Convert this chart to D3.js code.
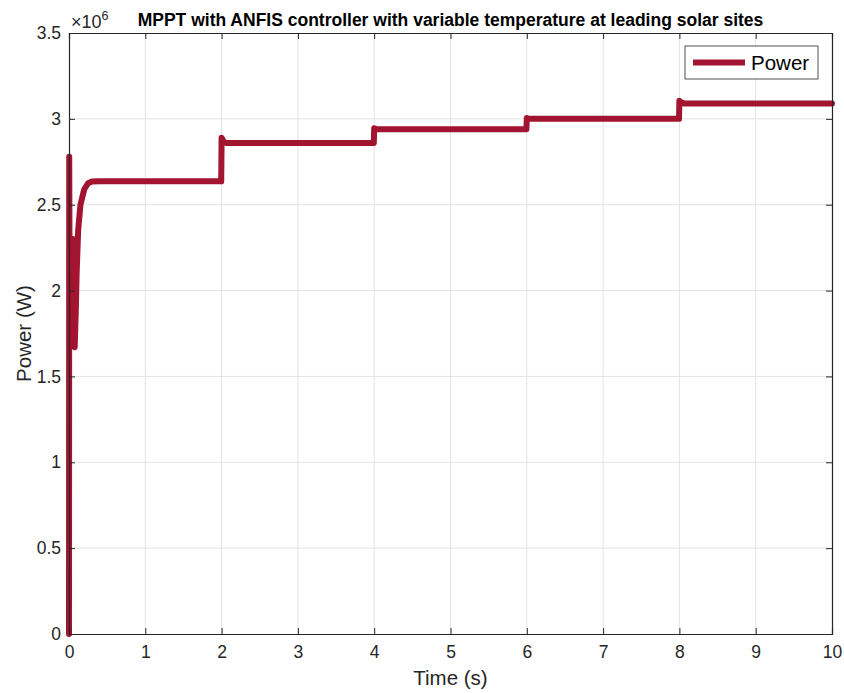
<!DOCTYPE html>
<html>
<head>
<meta charset="utf-8">
<script src="https://cdn.jsdelivr.net/npm/d3@7"></script>
<style>
  body { margin: 0; background: #fff; }
  text { font-family: "Liberation Sans", Arial, sans-serif; fill: #262626; }
</style>
</head>
<body>
<svg id="chart"></svg>
<script>
// time (s) and power (x10^6 W)
const timeVals = [0, 0.003, 0.008, 0.012, 0.018, 0.024, 0.03, 0.037, 0.044, 0.051, 0.058, 0.064, 0.07, 0.075,
  0.09, 0.1, 0.12, 0.15, 0.2, 0.25, 0.3, 0.4,
  1.995, 2.0, 2.03, 2.06, 3.995, 4.0, 4.03, 5.995, 6.0, 6.03, 7.995, 8.0, 8.03, 8.06, 10];
const powerVals = [0, 2.78, 2.0, 2.3, 1.75, 2.28, 1.72, 2.27, 1.7, 2.3, 1.69, 2.2, 1.68, 1.67,
  1.9, 2.1, 2.35, 2.5, 2.59, 2.625, 2.635, 2.637,
  2.636, 2.89, 2.865, 2.86, 2.86, 2.945, 2.94, 2.94, 3.005, 3.0, 3.0, 3.105, 3.095, 3.09, 3.09];
const xTicks = [0, 1, 2, 3, 4, 5, 6, 7, 8, 9, 10];
const yTicks = [0, 0.5, 1, 1.5, 2, 2.5, 3, 3.5];

const svgWidth = 844, svgHeight = 693;
const margin = { top: 33, right: 12, bottom: 59, left: 69 };
const width = svgWidth - margin.left - margin.right;
const height = svgHeight - margin.top - margin.bottom;

const svg = d3.select("#chart").attr("width", svgWidth).attr("height", svgHeight);
const g = svg.append("g").attr("transform", `translate(${margin.left},${margin.top})`);

const xScale = d3.scaleLinear().domain([0, 10]).range([0, width]);
const yScale = d3.scaleLinear().domain([0, 3.5]).range([height, 0]);

// grid
g.append("g").selectAll("line").data(xTicks.slice(1, -1)).join("line")
  .attr("x1", d => xScale(d)).attr("x2", d => xScale(d))
  .attr("y1", 0).attr("y2", height)
  .attr("stroke", "#e3e3e3").attr("stroke-width", 1);
g.append("g").selectAll("line").data(yTicks.slice(1, -1)).join("line")
  .attr("y1", d => yScale(d)).attr("y2", d => yScale(d))
  .attr("x1", 0).attr("x2", width)
  .attr("stroke", "#e3e3e3").attr("stroke-width", 1);

// data line
const line = d3.line().x((d, i) => xScale(timeVals[i])).y(d => yScale(d));
g.append("path")
  .datum(powerVals)
  .attr("d", line)
  .attr("fill", "none")
  .attr("stroke", "#A2142F")
  .attr("stroke-width", 6)
  .attr("stroke-linejoin", "round")
  .attr("stroke-linecap", "round");

// axes (MATLAB style: inward ticks on all sides, box)
const tickLen = 6;
const axisColor = "#262626";
g.append("g").attr("transform", `translate(0,${height})`)
  .call(d3.axisBottom(xScale).tickValues(xTicks).tickSize(-tickLen).tickPadding(12).tickFormat(d3.format("d")));
g.append("g")
  .call(d3.axisLeft(yScale).tickValues(yTicks).tickSize(-tickLen).tickPadding(8).tickFormat(d => d));
g.append("g").call(d3.axisTop(xScale).tickValues(xTicks).tickSize(-tickLen).tickFormat(""));
g.append("g").attr("transform", `translate(${width},0)`)
  .call(d3.axisRight(yScale).tickValues(yTicks).tickSize(-tickLen).tickFormat(""));
g.selectAll(".domain").attr("stroke", axisColor).attr("stroke-width", 1.2);
g.selectAll(".tick line").attr("stroke", axisColor);
g.selectAll(".tick text").attr("fill", axisColor).attr("font-size", 17.5)
  .style("font-size", "17.5px")
  .style("font-family", "'Liberation Sans', Arial, sans-serif");

// exponent label
const expo = svg.append("text").attr("x", 71).attr("y", 28).style("font-size", "18px");
expo.append("tspan").text("\u00d710");
expo.append("tspan").attr("dy", -8).style("font-size", "12.5px").text("6");

// title
svg.append("text")
  .attr("x", margin.left + width / 2).attr("y", 26)
  .attr("text-anchor", "middle")
  .style("font-size", "17.5px").style("font-weight", "bold")
  .style("fill", "#000")
  .text("MPPT with ANFIS controller with variable temperature at leading solar sites");

// axis labels
svg.append("text")
  .attr("x", margin.left + width / 2).attr("y", 685)
  .attr("text-anchor", "middle")
  .style("font-size", "20.5px")
  .text("Time (s)");
svg.append("text")
  .attr("transform", `translate(31,${margin.top + height / 2}) rotate(-90)`)
  .attr("text-anchor", "middle")
  .style("font-size", "20.5px")
  .text("Power (W)");

// legend
const leg = svg.append("g").attr("transform", "translate(685,46)");
leg.append("rect").attr("width", 133).attr("height", 33)
  .attr("fill", "#fff").attr("stroke", "#262626").attr("stroke-width", 0.8);
leg.append("line").attr("x1", 8).attr("x2", 60).attr("y1", 16.5).attr("y2", 16.5)
  .attr("stroke", "#A2142F").attr("stroke-width", 6);
leg.append("text").attr("x", 66).attr("y", 24)
  .style("font-size", "20.5px").style("fill", "#000").text("Power");
</script>
</body>
</html>
